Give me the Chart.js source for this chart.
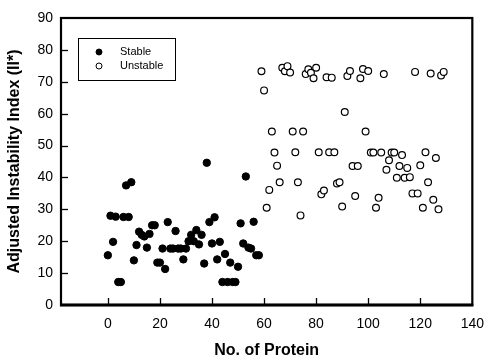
<!DOCTYPE html>
<html>
<head>
<meta charset="utf-8">
<script src="https://cdn.jsdelivr.net/npm/chart.js@4.4.1/dist/chart.umd.min.js"></script>
<style>
html,body{margin:0;padding:0;background:#fff;}
#wrap{width:495px;height:360px;position:relative;}
</style>
</head>
<body>
<div id="wrap"><canvas id="c" width="495" height="360"></canvas></div>
<script>
// ---- data ----
const stableNo = [0,1,2,3,4,5,6,7,8,9,10,11,12,13,14,15,16,17,18,19,20,21,22,23,24,25,26,27,28,29,30,31,32,33,34,35,36,37,38,39,40,41,42,43,44,45,46,47,48,49,50,51,52,53,54,55,56,57,58];
const stableII = [15.6,28,19.8,27.7,7.2,7.2,27.6,37.5,27.6,38.5,14,18.8,23,22,21.5,18,22.3,25,25,13.3,13.3,17.7,11.3,26,17.7,17.7,23.2,17.7,17.7,14.3,17.7,20,22,20,23.5,19,22,13,44.6,26,19.3,27.5,14.3,19.8,7.2,16,7.2,13.3,7.2,7.2,12,25.6,19.3,40.3,18,17.7,26.1,15.6,15.6];
const unstableNo = [59,60,61,62,63,64,65,66,67,68,69,70,71,72,73,74,75,76,77,78,79,80,81,82,83,84,85,86,87,88,89,90,91,92,93,94,95,96,97,98,99,100,101,102,103,104,105,106,107,108,109,110,111,112,113,114,115,116,117,118,119,120,121,122,123,124,125,126,127,128,129];
const unstableII = [73.3,67.3,30.5,36.1,54.4,47.8,43.7,38.5,74.4,73.3,74.9,72.9,54.4,47.9,38.5,28.1,54.4,72.4,73.9,72.8,71.1,74.4,47.9,34.7,35.9,71.4,47.9,71.3,47.9,38.1,38.5,30.9,60.5,71.8,73.4,43.6,34.2,43.6,71.1,74.0,54.4,73.4,47.8,47.8,30.5,33.6,47.8,72.4,42.4,45.4,47.8,47.8,39.9,43.6,47.0,39.9,43.0,40.1,35.0,73.1,35.0,43.8,30.5,47.9,38.5,72.6,33.0,46.1,30.0,72.0,73.1];
const xTicks = [0,20,40,60,80,100,120,140];
const yTicks = [0,10,20,30,40,50,60,70,80,90];
const seriesNames = ['Stable','Unstable'];
const xTitle = 'No. of Protein';
const yTitle = 'Adjusted Instability Index (II*)';

const FONT = '"Liberation Sans", Arial, sans-serif';

function toPts(xs, ys){ return xs.map((x,i)=>({x:x, y:ys[i]})); }

const framePlugin = {
  id:'frame',
  afterDatasetsDraw(chart){
    const ctx = chart.ctx, a = chart.chartArea;
    const xs = chart.scales.x, ys = chart.scales.y;
    ctx.save();
    ctx.strokeStyle = '#000';
    // inside ticks
    ctx.lineWidth = 1.3;
    xTicks.forEach(v=>{
      const px = Math.round(xs.getPixelForValue(v))+0.5;
      if (px > a.right-3) return;
      ctx.beginPath(); ctx.moveTo(px, a.bottom); ctx.lineTo(px, a.bottom-7); ctx.stroke();
    });
    yTicks.forEach(v=>{
      const py = Math.round(ys.getPixelForValue(v))+0.5;
      if (py < a.top+3 || py > a.bottom-3) return;
      ctx.beginPath(); ctx.moveTo(a.left, py); ctx.lineTo(a.left+7, py); ctx.stroke();
    });
    // frame
    ctx.lineWidth = 2.2;
    ctx.strokeRect(a.left, a.top, a.right-a.left, a.bottom-a.top);
    ctx.lineWidth = 3;
    ctx.beginPath(); ctx.moveTo(a.left-1, a.bottom); ctx.lineTo(a.right+1, a.bottom); ctx.stroke();
    // legend
    const lx = 78, ly = 38, lw = 97, lh = 42;
    ctx.lineWidth = 1;
    ctx.strokeRect(lx+0.5, ly+0.5, lw, lh);
    ctx.font = '11px ' + FONT;
    ctx.textBaseline = 'middle';
    ctx.fillStyle = '#000';
    const ds = chart.data.datasets;
    [52, 66].forEach((yy,i)=>{
      ctx.beginPath();
      ctx.arc(99, yy, 3, 0, Math.PI*2);
      ctx.fillStyle = ds[i].backgroundColor;
      ctx.fill();
      ctx.lineWidth = 1;
      ctx.strokeStyle = '#000';
      ctx.stroke();
      ctx.fillStyle = '#000';
      ctx.fillText(ds[i].label, 120, yy);
    });
    ctx.restore();
  }
};

new Chart(document.getElementById('c'), {
  type:'scatter',
  data:{
    datasets:[
      {label:seriesNames[0], data:toPts(stableNo, stableII), backgroundColor:'#000', borderColor:'#000', borderWidth:1, pointRadius:3.7},
      {label:seriesNames[1], data:toPts(unstableNo, unstableII), backgroundColor:'#fff', borderColor:'#000', borderWidth:1.2, pointRadius:3.4}
    ]
  },
  options:{
    responsive:false,
    animation:false,
    layout:{padding:{top:18, right:15, left:0, bottom:0}},
    plugins:{legend:{display:false}, tooltip:{enabled:false}},
    scales:{
      x:{
        type:'linear', min:-18, max:140,
        afterBuildTicks(s){ s.ticks = xTicks.map(v=>({value:v})); },
        afterFit(s){ s.height = 55; },
        grid:{display:false, drawTicks:false},
        border:{display:false},
        ticks:{color:'#000', font:{family:FONT, size:14}, padding:11, maxRotation:0},
        title:{display:true, text:xTitle, color:'#000', font:{family:FONT, size:16, weight:'bold'}, padding:{top:-2,bottom:0}}
      },
      y:{
        type:'linear', min:0, max:90,
        afterBuildTicks(s){ s.ticks = yTicks.map(v=>({value:v})); },
        afterFit(s){ s.width = 61; },
        grid:{display:false, drawTicks:false},
        border:{display:false},
        ticks:{color:'#000', font:{family:FONT, size:14}, padding:8},
        title:{display:true, text:yTitle, color:'#000', font:{family:FONT, size:16, weight:'bold'}, padding:{top:5,bottom:0}}
      }
    }
  },
  plugins:[framePlugin]
});
</script>
</body>
</html>
